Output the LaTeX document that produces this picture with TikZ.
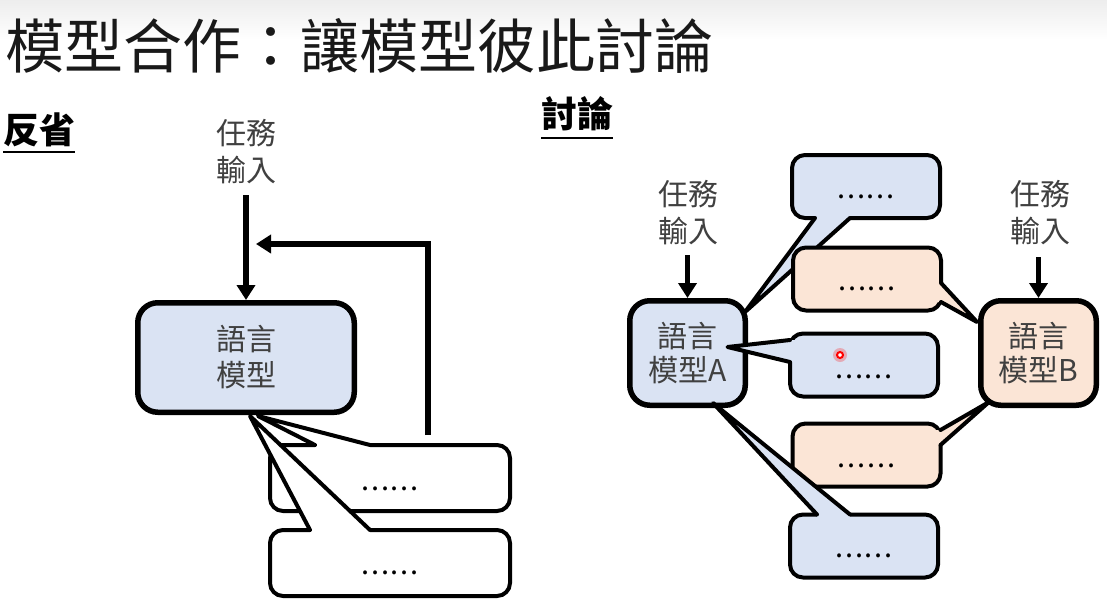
\documentclass[tikz,border=0pt]{standalone}
\usepackage{fontspec}
\setmainfont{Noto Sans CJK TC}
\usetikzlibrary{arrows.meta,calc}
\definecolor{lblue}{RGB}{218,227,243}
\definecolor{lorange}{RGB}{251,229,214}
\definecolor{tgray}{RGB}{64,64,64}
\newcommand{\sixdots}{.\kern1.8pt.\kern1.8pt.\kern1.8pt.\kern1.8pt.\kern1.8pt.}
\newcommand{\bubbletail}[5]{%
  \fill[#1] ($(#2)+(#5)$) -- (#2) -- (#3) -- (#4) -- ($(#4)+(#5)$) -- cycle;
  \draw[tailline] (#2) -- (#3) -- (#4);}
\begin{document}
\begin{tikzpicture}[x=1pt,y=-1pt,
  model/.style={draw=black,line width=5.5pt,rounded corners=20pt,inner sep=0pt,align=center,
    font=\fontsize{30}{34}\selectfont,text=tgray,minimum width=115.5pt,minimum height=104.5pt},
  bigmodel/.style={model,minimum width=216.5pt,minimum height=109.5pt,font=\fontsize{30}{36}\selectfont},
  bubble/.style={draw=black,line width=4pt,rounded corners=13pt,inner sep=0pt,outer sep=0pt,
    minimum width=148pt,minimum height=63pt},
  wbubble/.style={bubble,fill=white,minimum width=240pt,minimum height=66pt},
  dotstext/.style={anchor=base,inner sep=0pt,font=\fontsize{29}{29}\selectfont,text=black},
  inlabel/.style={align=center,font=\fontsize{30}{37}\selectfont,text=tgray,inner sep=0pt},
  head/.style={anchor=west,inner sep=0pt,font=\fontsize{36}{36}\selectfont\bfseries,text=black},
  flow/.style={line width=5.5pt,-{Triangle[length=15pt,width=18pt]}},
  tailline/.style={line width=4pt,line join=round,line cap=round}
]
\fill[white] (0,0) rectangle (1107,605);
\shade[top color=black!7,bottom color=white] (0,0) rectangle (1107,40);
\useasboundingbox (0,0) rectangle (1107,605);

% title and headings
\node[anchor=west,inner sep=0pt,font=\fontsize{59}{59}\selectfont,text=black!90] (title) at (5,46) {模型合作：讓模型彼此討論};
\node[head] (h1) at (3,130) {反省};
\draw[line width=2.5pt] ($(h1.west)+(0,22)$) -- ($(h1.east)+(0,22)$);
\node[head] (h2) at (541,114) {討論};
\draw[line width=2.5pt] ($(h2.west)+(0,24)$) -- ($(h2.east)+(0,24)$);

% ---------------- left: reflection ----------------
\node[bigmodel,fill=lblue] (M) at (246,357.5) {語言\\模型};
\node[inlabel] (in1) at (246,152) {任務\\輸入};
\coordinate (a1) at ($(M.north)+(0,-105)$);
\draw[flow] (a1) -- (M.north);

\node[wbubble] (c1) at (390,478) {};
\coordinate (c1b1) at ($(c1.north west)+(45,0)$);
\coordinate (c1b2) at ($(c1.north west)+(100,0)$);
\coordinate (c1ap) at ($(M.south)+(12,1)$);
\bubbletail{white}{c1b1}{c1ap}{c1b2}{0,5}
\node[dotstext] (d1) at ($(c1.center)+(0,12)$) {\sixdots};

\node[wbubble] (c2) at (390,563) {};
\coordinate (c2b1) at ($(c2.north west)+(40,0)$);
\coordinate (c2b2) at ($(c2.north west)+(100,0)$);
\coordinate (c2ap) at ($(M.south)+(4,1)$);
\bubbletail{white}{c2b1}{c2ap}{c2b2}{0,5}
\node[dotstext] (d2) at ($(c2.center)+(0,11)$) {\sixdots};

\coordinate (fb) at ($(c1.north)+(38,-10)$);
\coordinate (fbt) at ($(a1)+(10,49)$);
\draw[flow] (fb) |- (fbt);

% ---------------- right: discussion ----------------
\node[model,fill=lblue] (A) at (687.5,353) {語言\\模型A};
\node[model,fill=lorange] (B) at (1038.5,353) {語言\\模型B};
\node[inlabel] (inA) at (688,212.5) {任務\\輸入};
\node[inlabel] (inB) at (1040,212.5) {任務\\輸入};
\coordinate (aA) at ($(A.north)+(0,-43)$);
\coordinate (aB) at ($(B.north)+(0,-41)$);
\draw[flow] (aA) -- (A.north);
\draw[flow] (aB) -- (B.north);

% bubble 1 (blue, to A)
\node[bubble,fill=lblue] (r1) at (866,186.5) {};
\coordinate (r1b1) at ($(r1.south west)+(23,0)$);
\coordinate (r1b2) at ($(r1.south west)+(58,0)$);
\coordinate (r1ap) at ($(A.north east)+(-3,14)$);
\bubbletail{lblue}{r1b1}{r1ap}{r1b2}{0,-5}
\node[dotstext] (t1) at ($(r1.center)+(0,12)$) {\sixdots};

% bubble 2 (orange, to B)
\node[bubble,fill=lorange] (r2) at (867,279) {};
\coordinate (r2b1) at ($(r2.east)+(0,4)$);
\coordinate (r2b2) at ($(r2.east)+(0,23)$);
\coordinate (r2ap) at ($(B.west)+(-1,-31)$);
\bubbletail{lorange}{r2b1}{r2ap}{r2b2}{-5,0}
\node[dotstext] (t2) at ($(r2.center)+(0,11)$) {\sixdots};

% bubble 3 (blue, to A)
\node[bubble,fill=lblue] (r3) at (864,365) {};
\coordinate (r3b1) at ($(r3.west)+(0,-25)$);
\coordinate (r3b2) at ($(r3.west)+(0,-3)$);
\coordinate (r3ap) at ($(A.center)+(40,-6)$);
\bubbletail{lblue}{r3b1}{r3ap}{r3b2}{5,0}
\node[dotstext] (t3) at ($(r3.center)+(0,13)$) {\sixdots};
% laser pointer spot
\fill[red,opacity=0.25] ($(r3.center)+(-24,-10)$) circle (7pt);
\draw[red,line width=2pt,fill=white] ($(r3.center)+(-24,-10)$) circle (3pt);

% bubble 4 (orange, to B)
\node[bubble,fill=lorange] (r4) at (866.5,455) {};
\coordinate (r4b1) at ($(r4.east)+(0,-25)$);
\coordinate (r4b2) at ($(r4.east)+(0,-10)$);
\coordinate (r4ap) at ($(B.south west)+(11,-6)$);
\bubbletail{lorange}{r4b1}{r4ap}{r4b2}{-5,0}
\node[dotstext] (t4) at ($(r4.center)+(0,12)$) {\sixdots};

% bubble 5 (blue, to A)
\node[bubble,fill=lblue] (r5) at (864,546) {};
\coordinate (r5b1) at ($(r5.north west)+(27,0)$);
\coordinate (r5b2) at ($(r5.north west)+(60,0)$);
\coordinate (r5ap) at ($(A.south west)+(86,-5)$);
\bubbletail{lblue}{r5b1}{r5ap}{r5b2}{0,5}
\node[dotstext] (t5) at ($(r5.center)+(0,11)$) {\sixdots};
\end{tikzpicture}
\end{document}
